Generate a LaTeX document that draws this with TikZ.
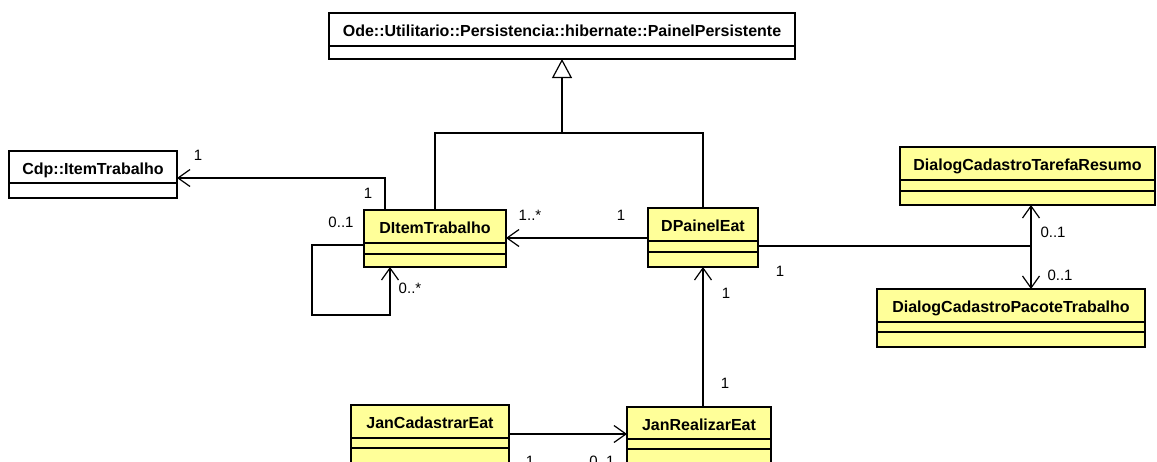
\documentclass[tikz,border=0pt]{standalone}
\usepackage{fontspec}
\setmainfont{Liberation Sans}
\usetikzlibrary{arrows.meta}
\definecolor{classyellow}{HTML}{FFFF99}

% #1 name, #2 style, #3 left, #4 top, #5 right, #6 bottom, #7 title, #8 compartment lines
\newcommand\umlclass[8]{%
  \node[#2, minimum width={#5-#3}, minimum height={#6-#4}] (#1) at ({(#3+#5)/2},{(#4+#6)/2}) {};
  \node[classtitle, anchor=base] (#1-name) at ({(#3+#5)/2},{#4+23.5}) {#7};
  \foreach \yy in {#8} \draw[compart] (#3,\yy) -- (#5,\yy);
}

\begin{document}
\begin{tikzpicture}[x=1pt,y=-1pt,
  classbox/.style={draw=black, line width=2.6pt, inner sep=0pt, outer sep=0pt, rectangle},
  plainbox/.style={classbox, fill=white},
  activebox/.style={classbox, fill=classyellow},
  classtitle/.style={font=\fontsize{16}{18}\selectfont\bfseries, inner sep=0pt},
  compart/.style={line width=1.3pt},
  conn/.style={line width=1.2pt},
  nav/.style={conn, -{Straight Barb[length=12pt,width=17pt,line width=1.2pt]}},
  bothnav/.style={conn, {Straight Barb[length=12pt,width=17pt,line width=1.2pt]}-{Straight Barb[length=12pt,width=17pt,line width=1.2pt]}},
  gen/.style={conn, -{Triangle[open, length=19pt, width=20pt, fill=white, line width=1.2pt]}},
  mult/.style={font=\fontsize{15}{17}\selectfont, inner sep=0pt, text height=11pt, text depth=0pt}]

\useasboundingbox (0,0) rectangle (1157,461);
\clip (0,0) rectangle (1157,461);
\fill[white] (0,0) rectangle (1157,461);

% classes
\umlclass{pp}{plainbox}{329}{13}{795}{59}{Ode::Utilitario::Persistencia::hibernate::PainelPersistente}{46}
\umlclass{cdp}{plainbox}{9}{151}{177}{198}{Cdp::ItemTrabalho}{183}
\umlclass{ditem}{activebox}{364}{210}{506}{267}{DItemTrabalho}{243,254}
\umlclass{dpainel}{activebox}{648}{208}{758}{267}{DPainelEat}{241,252}
\umlclass{dtr}{activebox}{900}{147}{1155}{205}{DialogCadastroTarefaResumo}{180,191}
\umlclass{dpt}{activebox}{877}{289}{1145}{347}{DialogCadastroPacoteTrabalho}{322,332}
\umlclass{jancad}{activebox}{351}{405}{509}{490}{JanCadastrarEat}{438,448}
\umlclass{janreal}{activebox}{627}{407}{771}{490}{JanRealizarEat}{439,449}

% generalization
\coordinate (gj) at (562,133);
\draw[conn] (ditem.north) |- (gj) -| (dpainel.north);
\draw[gen] (gj) -- (pp.south);

% DItemTrabalho -> Cdp::ItemTrabalho
\coordinate (c1) at (385,178);
\draw[nav] (ditem.north -| c1) -- (c1) -- (c1 -| cdp.east);

% self association of DItemTrabalho
\coordinate (s1) at (312,245);
\coordinate (s2) at (390,315);
\draw[nav] (ditem.west |- s1) -- (s1) |- (s2) -- (s2 |- ditem.south);

% DPainelEat -> DItemTrabalho
\draw[nav] (dpainel.west |- 0,238) -- (ditem.east |- 0,238);

% DPainelEat -- dialogs
\coordinate (dj) at (1031,246);
\draw[conn] (dpainel.east |- dj) -- (dj);
\draw[bothnav] (dtr.south -| dj) -- (dpt.north -| dj);

% JanRealizarEat -> DPainelEat
\draw[nav] (janreal.north -| dpainel.south) -- (dpainel.south);

% JanCadastrarEat -> JanRealizarEat
\draw[nav] (jancad.east |- 0,434) -- (janreal.west |- 0,434);

% multiplicities
\node[mult] (m1) at (198,155) {1};
\node[mult] (m2) at (368,193) {1};
\node[mult] (m3) at (341,222) {0..1};
\node[mult] (m4) at (410,288) {0..*};
\node[mult] (m5) at (530,215) {1..*};
\node[mult] (m6) at (621,215) {1};
\node[mult] (m7) at (780,271) {1};
\node[mult] (m8) at (726,293) {1};
\node[mult] (m9) at (1053,232) {0..1};
\node[mult] (m10) at (1060,275) {0..1};
\node[mult] (m11) at (725,383) {1};
\node[mult] (m12) at (530,461) {1};
\node[mult] (m13) at (602,461) {0..1};
\end{tikzpicture}
\end{document}
